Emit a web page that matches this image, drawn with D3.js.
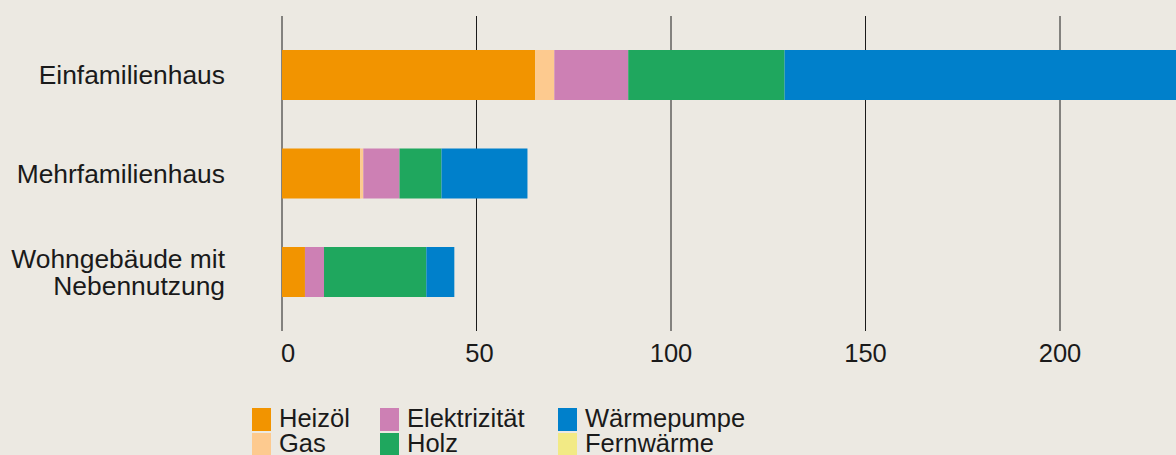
<!DOCTYPE html>
<html>
<head>
<meta charset="utf-8">
<script src="https://d3js.org/d3.v7.min.js"></script>
<style>
body { margin: 0; background: #ece9e2; }
svg { display: block; }
text { font-family: "Liberation Sans", Arial, Helvetica, sans-serif; fill: #1a1a1a; }
</style>
</head>
<body>
<div id="chart"></div>
<script>
// categories (rows) and stacked series values
var categories = ["Einfamilienhaus", "Mehrfamilienhaus", "Wohngebäude mit Nebennutzung"];
var heizoel     = [65.1, 20.1, 5.9];
var gas         = [4.9, 0.8, 0];
var elektrizitaet = [19.0, 9.3, 4.9];
var holz        = [40.2, 10.8, 26.3];
var waermepumpe = [110, 22.1, 7.2];
var fernwaerme  = [0, 0, 0];
var seriesNames = ["Heizöl", "Gas", "Elektrizität", "Holz", "Wärmepumpe", "Fernwärme"];
var seriesColors = ["#f29400", "#fdca8f", "#cd80b4", "#1fa75e", "#0080cb", "#f2ea85"];
var tickValues = [0, 50, 100, 150, 200];

var width = 1176, height = 455;

var svg = d3.select("#chart").append("svg")
  .attr("width", width)
  .attr("height", height);

svg.append("rect").attr("width", width).attr("height", height).attr("fill", "#ece9e2");

// build rows for d3.stack
var allSeries = [heizoel, gas, elektrizitaet, holz, waermepumpe, fernwaerme];
var rows = categories.map(function(c, i) {
  var r = { cat: c };
  seriesNames.forEach(function(s, j) { r[s] = allSeries[j][i]; });
  return r;
});

var x = d3.scaleLinear().domain([0, 50]).range([282, 476.5]);
var y = d3.scalePoint().domain(categories).range([75, 272]);
var barH = 50;

// grid lines (behind bars)
svg.append("g")
  .selectAll("line")
  .data(tickValues)
  .enter().append("line")
    .attr("x1", function(d) { return x(d); })
    .attr("x2", function(d) { return x(d); })
    .attr("y1", 16)
    .attr("y2", 331)
    .attr("stroke", "#1a1a1a")
    .attr("stroke-width", 1);

// tick labels
svg.append("g")
  .selectAll("text")
  .data(tickValues)
  .enter().append("text")
    .attr("x", function(d) { return x(d) + (d === 0 ? 6 : d === 50 ? 3 : 0); })
    .attr("y", 362)
    .attr("text-anchor", "middle")
    .style("font-size", "25.5px")
    .text(function(d) { return d; });

// stacked bars
var stack = d3.stack().keys(seriesNames);
var layers = stack(rows);

svg.append("g")
  .selectAll("g")
  .data(layers)
  .enter().append("g")
    .attr("fill", function(d, i) { return seriesColors[i]; })
  .selectAll("rect")
  .data(function(d) { return d; })
  .enter().append("rect")
    .attr("x", function(d) { return x(d[0]); })
    .attr("y", function(d) { return y(d.data.cat) - barH / 2; })
    .attr("width", function(d) { return Math.max(0, x(d[1]) - x(d[0])); })
    .attr("height", barH);

// category labels
var labels = svg.append("g")
  .selectAll("text")
  .data(categories)
  .enter().append("text")
    .attr("x", 225)
    .attr("y", function(d) { return y(d); })
    .attr("text-anchor", "end")
    .style("font-size", "26.4px");

labels.each(function(d) {
  var t = d3.select(this);
  if (d === "Wohngebäude mit Nebennutzung") {
    t.append("tspan").attr("x", 225).attr("dy", -4).text("Wohngebäude mit");
    t.append("tspan").attr("x", 225).attr("dy", 27).text("Nebennutzung");
  } else {
    t.attr("dy", 9).text(d);
  }
});

// legend: 3 columns x 2 rows
var legendCols = [252, 380, 558];
var legend = svg.append("g")
  .selectAll("g")
  .data(seriesNames)
  .enter().append("g")
    .attr("transform", function(d, i) {
      var col = Math.floor(i / 2), row = i % 2;
      return "translate(" + legendCols[col] + "," + (408 + row * 25) + ")";
    });

legend.append("rect")
  .attr("width", 19)
  .attr("height", 23)
  .attr("fill", function(d, i) { return seriesColors[i]; });

legend.append("text")
  .attr("x", 27)
  .attr("y", 19)
  .style("font-size", "25.5px")
  .text(function(d) { return d; });
</script>
</body>
</html>
